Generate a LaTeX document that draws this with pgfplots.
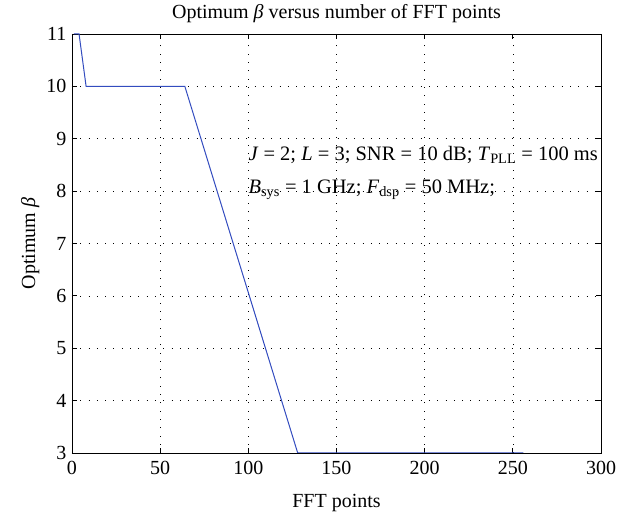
\documentclass[border=0pt]{standalone}
\usepackage{pgfplots}
\pgfplotsset{compat=1.18}
\usepackage{fontspec}
\setmainfont{Liberation Serif}
\definecolor{lineblue}{rgb}{0.2,0.3,0.75}
\begin{document}
\begin{tikzpicture}
\begin{axis}[
  scale only axis,
  width=529pt, height=419pt,
  xmin=0, xmax=300, ymin=3, ymax=11,
  xtick={0,50,...,300}, ytick={3,4,...,11},
  tick align=inside, major tick length=5pt,
  xtick pos=both, ytick pos=both,
  grid=major,
  grid style={black, line width=0.6pt, dash pattern=on 0.8pt off 7.5pt},
  axis line style={black, line width=0.9pt},
  tick style={black, line width=0.9pt},
  font=\fontsize{20}{24}\selectfont,
  /pgf/number format/assume math mode=true,
  yticklabel style={xshift=-2pt},
  xticklabel style={yshift=-5pt},
  every axis title shift=0pt,
  title={Optimum \textit{β} versus number of FFT points},
  xlabel={FFT points},
  ylabel={Optimum \textit{β}},
  title style={at={(axis description cs:0.5,1.036)}, anchor=base},
  xlabel style={at={(axis description cs:0.5,-0.131)}, anchor=base},
  ylabel style={at={(axis description cs:-0.079,0.5)}, anchor=center},
]
\addplot[lineblue, line width=1pt] coordinates {
  (1,11) (2,11) (4,11) (8,10) (16,10) (32,10) (64,10) (128,3) (256,3)
};
\node[anchor=west, inner sep=0pt, font=\fontsize{20.5}{24}\selectfont] at (axis cs:100,8.69)
  {\textit{J} = 2; \textit{L} = 3; SNR = 10 dB; \textit{T}\textsubscript{PLL} = 100 ms};
\node[anchor=west, inner sep=0pt, font=\fontsize{20.5}{24}\selectfont] at (axis cs:100,8.03)
  {\textit{B}\textsubscript{sys} = 1 GHz; \textit{F}\textsubscript{dsp} = 50 MHz;};
\end{axis}
\pgfresetboundingbox
\path ([xshift=-72pt,yshift=-61pt]current axis.south west)
  rectangle ([xshift=31pt,yshift=34pt]current axis.north east);
\end{tikzpicture}
\end{document}
